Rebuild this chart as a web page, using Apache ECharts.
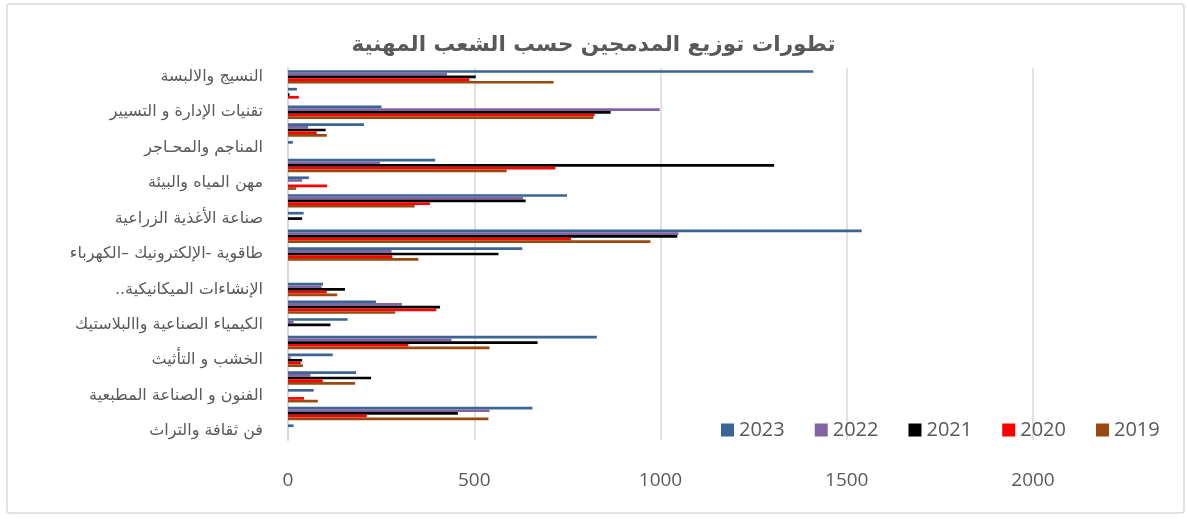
<!DOCTYPE html>
<html>
<head>
<meta charset="utf-8">
<script src="https://cdn.jsdelivr.net/npm/echarts@6/dist/echarts.min.js"></script>
<style>
  html, body { margin: 0; padding: 0; background: #fff; }
  #chart { width: 1187px; height: 519px; }
</style>
</head>
<body>
<div id="chart"></div>
<script>
// categories, top to bottom (only every other one carries a visible label)
const categories = [
  'النسيج والالبسة', '',
  'تقنيات الإدارة و التسيير', '',
  'المناجم والمحـاجر', '',
  'مهن المياه والبيئة', '',
  'صناعة الأغذية الزراعية', '',
  'طاقوية -الإلكترونيك –الكهرباء', '',
  'الإنشاءات الميكانيكية..\u200F', '',
  'الكيمياء الصناعية واالبلاستيك', '',
  'الخشب و التأثيث', '',
  'الفنون و الصناعة المطبعية', '',
  'فن ثقافة والتراث'
];
const years = ['2023', '2022', '2021', '2020', '2019'];
const xTicks = [0, 500, 1000, 1500, 2000];

// values per year, same order as categories
const v2023 = [1410, 24, 251, 204, 13, 395, 56, 749, 42, 1540, 629, 0, 94, 236, 160, 829, 120, 183, 69, 656, 15];
const v2022 = [427, 0, 998, 54, 0, 247, 38, 631, 0, 1048, 278, 0, 90, 306, 15, 439, 7, 60, 0, 541, 0];
const v2021 = [504, 4, 866, 101, 0, 1305, 0, 638, 38, 1045, 565, 0, 153, 408, 114, 670, 38, 223, 0, 456, 0];
const v2020 = [487, 29, 823, 77, 0, 718, 105, 381, 0, 760, 280, 0, 104, 398, 0, 323, 34, 93, 43, 211, 0];
const v2019 = [713, 0, 820, 104, 0, 587, 22, 340, 0, 973, 350, 0, 132, 288, 0, 541, 40, 180, 80, 538, 0];

const colors = ['#3B6595', '#8165A3', '#000000', '#FF0000', '#9A480D'];
const values = [v2023, v2022, v2021, v2020, v2019];

const chart = echarts.init(document.getElementById('chart'));

const series = years.map((y, i) => ({
  name: y,
  type: 'bar',
  data: values[i],
  barGap: '0%',
  barCategoryGap: '24%',
  itemStyle: { color: colors[i] }
}));

const option = {
  animation: false,
  color: colors,
  title: {
    text: 'تطورات توزيع المدمجين حسب الشعب المهنية',
    left: 'center',
    top: 29,
    textStyle: { fontFamily: 'DejaVu Sans', fontWeight: 'bold', fontSize: 21.5, color: '#595959' }
  },
  legend: {
    data: years,
    left: 716,
    top: 415,
    itemWidth: 13,
    itemHeight: 13,
    itemGap: 30,
    icon: 'rect',
    textStyle: { fontFamily: 'Open Sans', fontSize: 20, color: '#595959' }
  },
  grid: { left: 288, right: 154, top: 68, bottom: 79, containLabel: false },
  xAxis: {
    type: 'value',
    min: xTicks[0],
    max: xTicks[xTicks.length - 1],
    interval: 500,
    axisLine: { show: false },
    axisTick: { show: false },
    axisLabel: {
      margin: 31, fontFamily: 'Open Sans', fontSize: 19, color: '#595959',
      formatter: v => String(v)
    },
    splitLine: { lineStyle: { color: '#d9d9d9', width: 1.5 } }
  },
  yAxis: {
    type: 'category',
    data: categories,
    inverse: true,
    axisLine: { show: true, lineStyle: { color: '#d9d9d9', width: 2 } },
    axisTick: { show: false },
    axisLabel: { interval: 1, margin: 25, fontFamily: 'DejaVu Sans', fontSize: 16, color: '#595959' }
  },
  graphic: [{
    type: 'rect',
    shape: { x: 7, y: 4, width: 1177, height: 509, r: 3 },
    style: { fill: null, stroke: '#d9d9d9', lineWidth: 1.5 },
    silent: true
  }],
  series: series
};

chart.setOption(option);
</script>
</body>
</html>
